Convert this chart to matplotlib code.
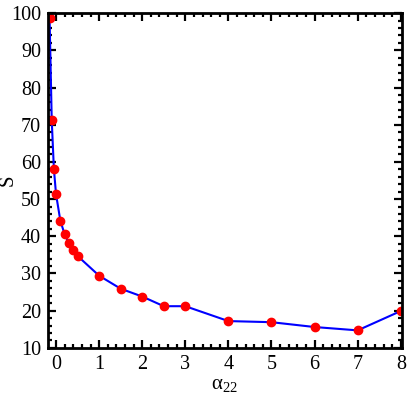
import matplotlib
matplotlib.use("Agg")
from matplotlib import pyplot as plt
from matplotlib.ticker import MultipleLocator

alpha22 = [-0.15, -0.1, -0.05, 0, 0.1, 0.2, 0.3, 0.4, 0.5, 1, 1.5, 2, 2.5, 3, 4, 5, 6, 7, 8]
S = [98.7, 71.2, 58.1, 51.3, 44.2, 40.5, 38.1, 36.3, 34.7, 29.4, 25.9, 23.8, 21.2, 21.2,
     17.2, 16.9, 15.6, 14.7, 19.9]

plt.rcParams['font.family'] = ['Liberation Serif', 'DejaVu Serif']
plt.rcParams['mathtext.fontset'] = 'custom'
plt.rcParams['mathtext.rm'] = 'Liberation Serif'
plt.rcParams['mathtext.it'] = 'Liberation Serif'

fig = plt.figure(figsize=(4.09, 3.98), dpi=100)
ax = fig.add_axes([0.117, 0.126, 0.866, 0.841])

ax.plot(alpha22, S, color='blue', lw=1.5, marker='o', markersize=6,
        markerfacecolor='red', markeredgecolor='red')

ax.set_xlim(-0.19, 8.03)
ax.set_ylim(10, 100)
ax.xaxis.set_major_locator(MultipleLocator(1))
ax.xaxis.set_minor_locator(MultipleLocator(0.2))
ax.yaxis.set_major_locator(MultipleLocator(10))
ax.yaxis.set_minor_locator(MultipleLocator(2))
ax.tick_params(which='both', direction='in', top=True, right=True, width=1.6, labelsize=14.5)
ax.tick_params(which='major', length=6, pad=5)
ax.tick_params(which='minor', length=3)
for sp in ax.spines.values():
    sp.set_linewidth(2)

ax.set_xlabel(r'$\mathrm{\alpha}_{22}$', fontsize=15, labelpad=1)
ax.set_ylabel('S', fontsize=15)
ax.yaxis.set_label_coords(-0.085, 0.5)

fig.savefig('out.png', dpi=100)
